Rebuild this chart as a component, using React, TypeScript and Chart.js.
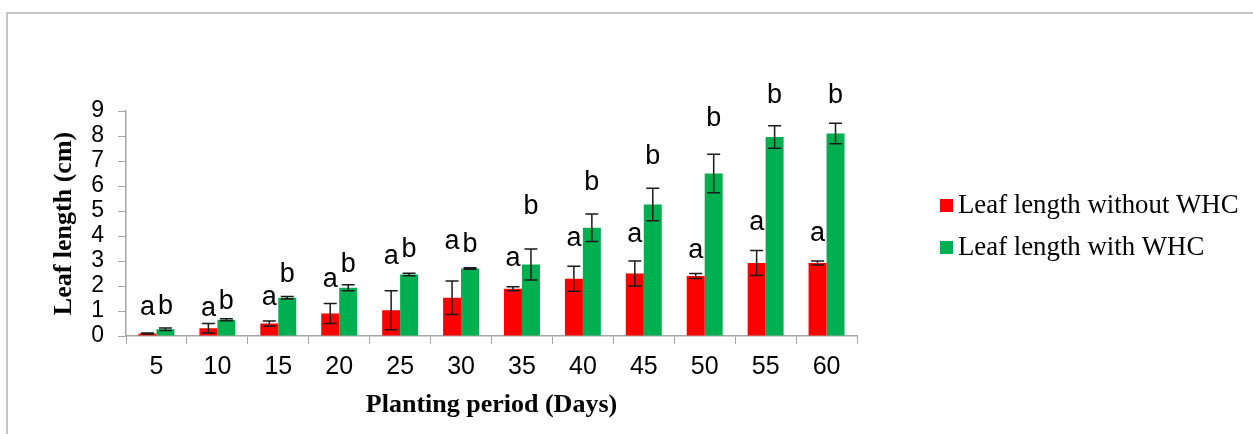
import React, { useEffect, useRef } from "react";
import { Chart, registerables } from "chart.js";

Chart.register(...registerables);

const categories = ["5", "10", "15", "20", "25", "30", "35", "40", "45", "50", "55", "60"];
const withoutWHC = [0.1, 0.31, 0.5, 0.9, 1.03, 1.53, 1.89, 2.29, 2.5, 2.4, 2.92, 2.92];
const withoutWHCErr = [0.02, 0.19, 0.1, 0.4, 0.78, 0.67, 0.08, 0.5, 0.5, 0.1, 0.5, 0.08];
const withWHC = [0.27, 0.65, 1.53, 1.93, 2.46, 2.7, 2.86, 4.33, 5.26, 6.5, 7.96, 8.1];
const withWHCErr = [0.05, 0.04, 0.05, 0.12, 0.05, 0.03, 0.62, 0.55, 0.65, 0.77, 0.45, 0.41];
const withoutLetters = ["a", "a", "a", "a", "a", "a", "a", "a", "a", "a", "a", "a"];
const withLetters = ["b", "b", "b", "b", "b", "b", "b", "b", "b", "b", "b", "b"];
const withoutLetterAt = [0.84, 0.8, 1.24, 1.97, 2.88, 3.5, 2.8, 3.61, 3.77, 3.13, 4.23, 3.8];
const withLetterAt = [0.87, 1.1, 2.17, 2.57, 3.17, 3.37, 4.9, 5.86, 6.9, 8.39, 9.32, 9.32];
const yTicks = [0, 1, 2, 3, 4, 5, 6, 7, 8, 9];

const RED = "#FF0000";
const GREEN = "#00B050";
const AXIS = "#a6a6a6";
const SERIF = "'Liberation Serif', 'Times New Roman', serif";
const SANS = "'Liberation Sans', Arial, sans-serif";

const errs = [withoutWHCErr, withWHCErr];
const letters = [withoutLetters, withLetters];
const letterAt = [withoutLetterAt, withLetterAt];

const decorPlugin = {
  id: "decor",
  beforeDraw(chart: any) {
    const { ctx, width, height } = chart;
    ctx.save();
    ctx.strokeStyle = "#c4c4c4";
    ctx.lineWidth = 2;
    ctx.beginPath();
    ctx.moveTo(7, height);
    ctx.lineTo(7, 13);
    ctx.lineTo(width, 13);
    ctx.stroke();
    ctx.restore();
  },
  afterDatasetsDraw(chart: any) {
    const { ctx } = chart;
    const y = chart.scales.y;
    ctx.save();
    chart.data.datasets.forEach((ds: any, i: number) => {
      const meta = chart.getDatasetMeta(i);
      meta.data.forEach((bar: any, j: number) => {
        const v = ds.data[j];
        const e = errs[i][j];
        const x = bar.x;
        const yTop = y.getPixelForValue(v + e);
        const yBot = y.getPixelForValue(Math.max(0, v - e));
        ctx.strokeStyle = "#1a1a1a";
        ctx.lineWidth = 1.5;
        ctx.beginPath();
        ctx.moveTo(x, yTop);
        ctx.lineTo(x, yBot);
        ctx.moveTo(x - 6.5, yTop);
        ctx.lineTo(x + 6.5, yTop);
        ctx.moveTo(x - 6.5, yBot);
        ctx.lineTo(x + 6.5, yBot);
        ctx.stroke();
        ctx.fillStyle = "#000";
        ctx.font = `27px ${SANS}`;
        ctx.textAlign = "center";
        ctx.textBaseline = "alphabetic";
        ctx.fillText(letters[i][j], x, y.getPixelForValue(letterAt[i][j]));
      });
    });
    ctx.restore();
  },
  afterDraw(chart: any) {
    const { ctx } = chart;
    ctx.save();
    const rows = [206, 248];
    chart.data.datasets.forEach((ds: any, i: number) => {
      ctx.fillStyle = ds.backgroundColor;
      ctx.fillRect(940, rows[i] - 7, 13, 13);
      ctx.fillStyle = "#000";
      ctx.font = `26.8px ${SERIF}`;
      ctx.textAlign = "left";
      ctx.textBaseline = "middle";
      ctx.fillText(ds.label, 958, rows[i]);
    });
    ctx.restore();
  },
};

export default function App() {
  const ref = useRef<HTMLCanvasElement | null>(null);
  useEffect(() => {
    document.body.style.margin = "0";
    if (!ref.current) return;
    const chart = new Chart(ref.current, {
      type: "bar",
      data: {
        labels: categories,
        datasets: [
          {
            label: "Leaf length without WHC",
            data: withoutWHC,
            backgroundColor: RED,
            categoryPercentage: 0.59,
            barPercentage: 1,
          },
          {
            label: "Leaf length with WHC",
            data: withWHC,
            backgroundColor: GREEN,
            categoryPercentage: 0.59,
            barPercentage: 1,
          },
        ],
      },
      options: {
        animation: false,
        responsive: true,
        maintainAspectRatio: false,
        layout: { padding: { top: 111, right: 396, bottom: 0, left: 0 } },
        plugins: {
          legend: { display: false },
          tooltip: { enabled: false },
        },
        scales: {
          x: {
            afterFit: (s: any) => {
              s.height = 98;
            },
            grid: {
              display: true,
              drawOnChartArea: false,
              drawTicks: true,
              tickLength: 8,
              color: AXIS,
              offset: true,
            },
            border: { display: true, color: AXIS, width: 1.5 },
            ticks: {
              color: "#000",
              font: { family: SANS, size: 25 },
              padding: 8,
            },
            title: {
              display: true,
              text: "Planting period (Days)",
              color: "#000",
              font: { family: SERIF, size: 26, weight: "bold" },
              padding: { top: 0, bottom: 13 },
            },
          },
          y: {
            min: 0,
            max: 9,
            afterFit: (s: any) => {
              s.width = 126;
            },
            afterBuildTicks: (s: any) => {
              s.ticks = yTicks.map((v) => ({ value: v }));
            },
            grid: {
              display: true,
              drawOnChartArea: false,
              drawTicks: true,
              tickLength: 8,
              color: AXIS,
            },
            border: { display: true, color: AXIS, width: 1.5 },
            ticks: {
              color: "#000",
              font: { family: SANS, size: 23 },
              padding: 14,
              autoSkip: false,
              stepSize: 1,
            },
            title: {
              display: true,
              text: "Leaf length (cm)",
              color: "#000",
              font: { family: SERIF, size: 26, weight: "bold" },
              padding: { top: 49, bottom: 0 },
            },
          },
        },
      },
      plugins: [decorPlugin],
    });
    return () => chart.destroy();
  }, []);
  return (
    <div style={{ width: 1253, height: 434, position: "relative" }}>
      <canvas ref={ref} />
    </div>
  );
}
